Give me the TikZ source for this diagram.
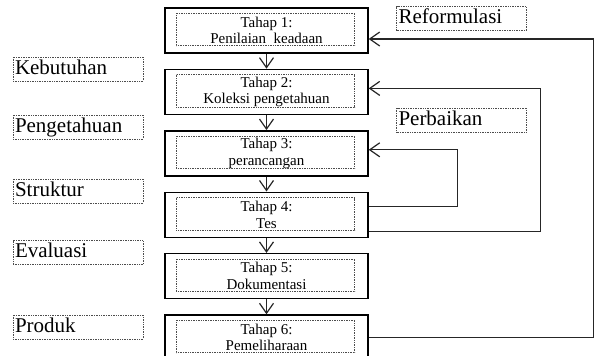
\documentclass[tikz,border=0pt]{standalone}
\usepackage{fontspec}
\setmainfont{Liberation Serif}
\usetikzlibrary{arrows.meta,positioning}

\tikzset{
    stage/.style={draw, line width=1.4pt, rectangle, minimum width=203pt, minimum height=45pt, align=center, font=\fontsize{15}{16.5}\selectfont},
    frame/.style={densely dotted, line width=0.7pt, black!70},
    tag/.style={draw, densely dotted, line width=0.7pt, black!70, text=black, rectangle, text width=126pt, inner sep=2pt, minimum height=23pt, text height=15pt, text depth=5pt, font=\fontsize{21}{21}\selectfont},
    flow/.style={line width=1.2pt, black!85, -{Straight Barb[length=10pt,width=14pt]}},
}

\begin{document}
\begin{tikzpicture}[x=1pt,y=-1pt]
    \useasboundingbox (0,0) rectangle (600,356);

    \node[stage] (s1) at (266.5,30.5) {Tahap 1:\\Penilaian\ \ keadaan};
    \node[stage, below=15pt of s1] (s2) {Tahap 2:\\Koleksi pengetahuan};
    \node[stage, below=15pt of s2] (s3) {Tahap 3:\\perancangan};
    \node[stage, below=15pt of s3] (s4) {Tahap 4:\\Tes};
    \node[stage, below=15pt of s4] (s5) {Tahap 5:\\Dokumentasi};
    \node[stage, below=15pt of s5] (s6) {Tahap 6:\\Pemeliharaan};
    \foreach \s in {s1,s2,s3,s4,s5,s6}
        \draw[frame] ([shift={(12,6)}]\s.north west) rectangle ([shift={(-14,-8)}]\s.south east);

    \foreach \a/\b in {s1/s2,s2/s3,s3/s4,s4/s5,s5/s6}
        \draw[flow] (\a) -- (\b);

    \draw[flow] (s6.east) -- ++(225,0) |- ([yshift=-8.5pt]s1.east);
    \draw[flow] ([yshift=-16.5pt]s4.east) -- ++(172,0) |- ([yshift=3.5pt]s2.east);
    \draw[flow] ([yshift=8.5pt]s4.east) -- ++(89,0) |- ([yshift=3.5pt]s3.east);

    \node[tag] (need) at (78,69) {Kebutuhan};
    \node[tag] (know) at (78,127) {Pengetahuan};
    \node[tag] (form) at (78,191) {Struktur};
    \node[tag] (eval) at (78,252.5) {Evaluasi};
    \node[tag] (prod) at (78,327) {Produk};
    \node[tag] (reform) at (461.5,18.5) {Reformulasi};
    \node[tag] (fix) at (461.5,120) {Perbaikan};
\end{tikzpicture}
\end{document}
